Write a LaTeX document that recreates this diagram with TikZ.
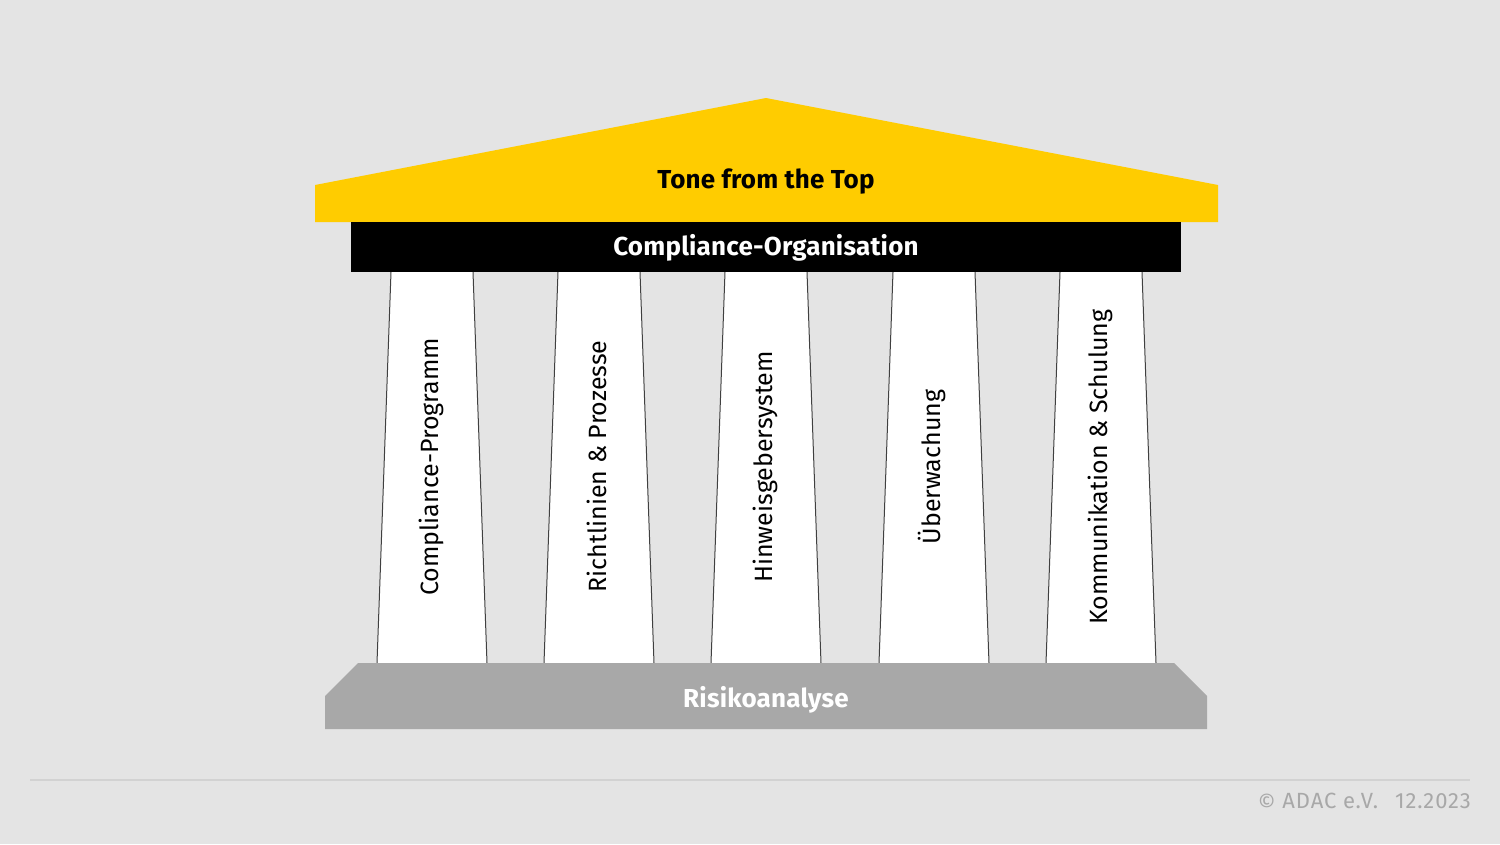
\documentclass[tikz,border=0pt]{standalone}
\usepackage{fontspec}
\setmainfont{Fira Sans}
\usetikzlibrary{positioning,calc}

\definecolor{bgGrey}{HTML}{E4E4E4}
\definecolor{roofYellow}{HTML}{FFCC00}
\definecolor{baseGrey}{HTML}{A8A8A8}
\definecolor{ruleGrey}{HTML}{D2D2D2}

\begin{document}
\begin{tikzpicture}[x=1pt, y=-1pt, every node/.style={font=\fontsize{25}{30}\selectfont}]

\tikzstyle{pillar} = [fill=white, draw=none]
\tikzstyle{pillaredge} = [draw=black!75, line width=1pt]
\tikzstyle{pillartext} = [rotate=90, inner sep=0pt, text=black]
\tikzstyle{heading} = [font=\fontsize{26}{30}\selectfont\bfseries\addfontfeatures{LetterSpace=0.8}, inner sep=0pt]

% Background
\fill[bgGrey] (0,0) rectangle (1500,844);
\useasboundingbox (0,0) rectangle (1500,844);

% Pillars
\fill[pillar] (391,272) -- (473,272) -- (487,663) -- (377,663) -- cycle;
\fill[pillar] (558,272) -- (640,272) -- (654,663) -- (544,663) -- cycle;
\fill[pillar] (725,272) -- (807,272) -- (821,663) -- (711,663) -- cycle;
\fill[pillar] (893,272) -- (975,272) -- (989,663) -- (879,663) -- cycle;
\fill[pillar] (1060,272) -- (1142,272) -- (1156,663) -- (1046,663) -- cycle;

% Pillar edges
\draw[pillaredge] (391,272) -- (377,663) (473,272) -- (487,663);
\draw[pillaredge] (558,272) -- (544,663) (640,272) -- (654,663);
\draw[pillaredge] (725,272) -- (711,663) (807,272) -- (821,663);
\draw[pillaredge] (893,272) -- (879,663) (975,272) -- (989,663);
\draw[pillaredge] (1060,272) -- (1046,663) (1142,272) -- (1156,663);

% Roof, beam and base
\fill[roofYellow] (315,185) -- (766,98) -- (1218,185) -- (1218,222) -- (315,222) -- cycle;
\fill[black] (351,222) rectangle (1181,272);
\fill[baseGrey] (325,696) -- (358,663) -- (1174,663) -- (1207,696) -- (1207,729) -- (325,729) -- cycle;

% Labels
\node[heading, text=black] (tone) at (766,182) {Tone from the Top};
\node[heading, text=white] (orga) at (766,248) {Compliance-Organisation};
\node[heading, text=white] (risk) at (766,700) {Risikoanalyse};

\node[pillartext] (programm) at (431,467) {Compliance-Programm};
\node[pillartext] (richtlinien) at (597,466.5) {Richtlinien \& Prozesse};
\node[pillartext] (hinweis) at (765,467) {Hinweisgebersystem};
\node[pillartext] (ueberwachung) at (932,467) {Überwachung};
\node[pillartext] (kommunikation) at (1100,467) {Kommunikation \& Schulung};

% Footer
\draw[ruleGrey, line width=1.2pt] (30,780) -- (1470,780);
\node[anchor=east, inner sep=0pt, text=baseGrey, font=\fontsize{22}{26}\selectfont\addfontfeatures{LetterSpace=4}] (copyright) at (1471,802) {\raisebox{-2pt}{©} ADAC e.V.\ \ \,12.2023};

\end{tikzpicture}
\end{document}
